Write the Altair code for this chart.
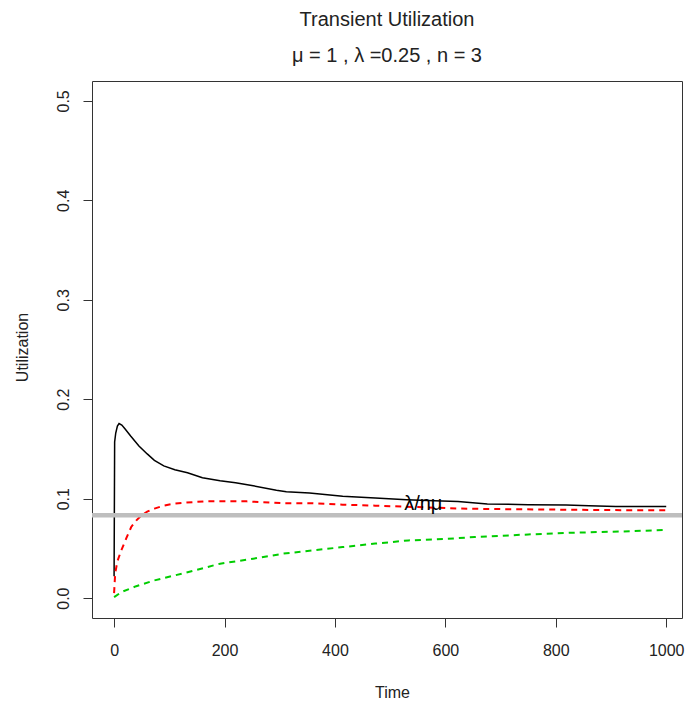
import altair as alt
import pandas as pd

# ---- data ----
black_time = [0, 1, 3, 6, 9, 14, 20, 30, 45, 60, 73, 90, 110, 133, 160, 192, 220, 252,
              294, 312, 354, 414, 473, 530, 580, 623, 676, 750, 819, 860, 909, 1000]
black_util = [0.022, 0.157, 0.166, 0.173, 0.1756, 0.174, 0.170, 0.163, 0.153, 0.145, 0.1386,
              0.133, 0.129, 0.126, 0.121, 0.118, 0.116, 0.113, 0.1084, 0.107, 0.1057, 0.1024,
              0.1007, 0.099, 0.098, 0.0972, 0.0946, 0.094, 0.0936, 0.093, 0.0922, 0.0922]

red_time = [0, 2, 6, 13, 22, 31, 40, 49, 60, 73, 90, 109, 130, 163, 240, 306, 354, 414,
            473, 550, 629, 700, 800, 900, 1000]
red_util = [0.005, 0.025, 0.037, 0.048, 0.060, 0.0715, 0.078, 0.083, 0.087, 0.090, 0.093,
            0.095, 0.096, 0.0973, 0.0973, 0.0955, 0.0955, 0.094, 0.093, 0.0915, 0.090,
            0.0895, 0.089, 0.0885, 0.0883]

green_time = [0, 13, 40, 73, 133, 192, 252, 306, 360, 414, 473, 533, 600, 653, 750, 832, 920, 1000]
green_util = [0.001, 0.006, 0.012, 0.0178, 0.026, 0.0346, 0.0396, 0.0447, 0.048, 0.0513,
              0.0548, 0.058, 0.0595, 0.0614, 0.064, 0.0658, 0.067, 0.0685]

ref_level = [0.0833]          # lambda / (n * mu)
label_time = [560]
label_util = [0.0945]
label_text = ["λ/nμ"]

x_ticks = [0, 200, 400, 600, 800, 1000]
y_ticks = [0.0, 0.1, 0.2, 0.3, 0.4, 0.5]

FONT = "Liberation Sans"

black_df = pd.DataFrame({"Time": black_time, "Utilization": black_util})
red_df = pd.DataFrame({"Time": red_time, "Utilization": red_util})
green_df = pd.DataFrame({"Time": green_time, "Utilization": green_util})
ref_df = pd.DataFrame({"Utilization": ref_level})
lab_df = pd.DataFrame({"Time": label_time, "Utilization": label_util, "label": label_text})

x_enc = alt.X("Time:Q",
              scale=alt.Scale(domain=[-40, 1028.6], nice=False, zero=False),
              axis=alt.Axis(values=x_ticks, format="d", grid=False, domain=False,
                            tickSize=9, tickColor="#333", labelFontSize=16,
                            labelColor="#222", labelFont=FONT, labelPadding=15,
                            labelBaseline="top",
                            title="Time", titleFont=FONT, titleFontSize=16,
                            titleFontWeight="normal", titleColor="#222",
                            titleX=300, titleY=74, titleBaseline="middle",
                            titleAlign="center"))
y_enc = alt.Y("Utilization:Q",
              scale=alt.Scale(domain=[-0.02, 0.52], nice=False, zero=False),
              axis=alt.Axis(values=y_ticks, format=".1f", grid=False, domain=False,
                            tickSize=9, tickColor="#333", labelFontSize=16,
                            labelColor="#222", labelFont=FONT, labelAngle=270,
                            labelAlign="center", labelBaseline="alphabetic",
                            labelPadding=15,
                            title="Utilization", titleFont=FONT, titleFontSize=16,
                            titleFontWeight="normal", titleColor="#222",
                            titleAngle=270, titleX=-70, titleY=266,
                            titleAlign="center", titleBaseline="middle"))

black = alt.Chart(black_df).mark_line(color="black", strokeWidth=1.5).encode(x=x_enc, y=y_enc)
red = alt.Chart(red_df).mark_line(color="#ff0000", strokeWidth=2, strokeDash=[6, 5]).encode(
    x="Time:Q", y="Utilization:Q")
green = alt.Chart(green_df).mark_line(color="#00cd00", strokeWidth=2, strokeDash=[6, 5]).encode(
    x="Time:Q", y="Utilization:Q")
ref = alt.Chart(ref_df).mark_rule(color="#bebebe", strokeWidth=4.5).encode(y="Utilization:Q")
lab = alt.Chart(lab_df).mark_text(font=FONT, fontSize=20, color="black", baseline="middle",
                                  align="center").encode(
    x="Time:Q", y="Utilization:Q", text="label:N")

chart = alt.layer(black, red, green, ref, lab).properties(
    width=590, height=537,
    title=alt.TitleParams(text="Transient Utilization",
                          subtitle="μ = 1 , λ =0.25 , n = 3",
                          font=FONT, subtitleFont=FONT, fontSize=20, subtitleFontSize=20,
                          fontWeight="normal", color="#222", subtitleColor="#222",
                          anchor="middle", offset=15, subtitlePadding=16),
    autosize=alt.AutoSizeParams(type="none"),
    padding={"left": 84, "top": 73, "right": 6, "bottom": 85},
).configure_view(stroke="#333", strokeWidth=1)

chart.save("out.html", embed_options={"renderer": "svg", "actions": False})
